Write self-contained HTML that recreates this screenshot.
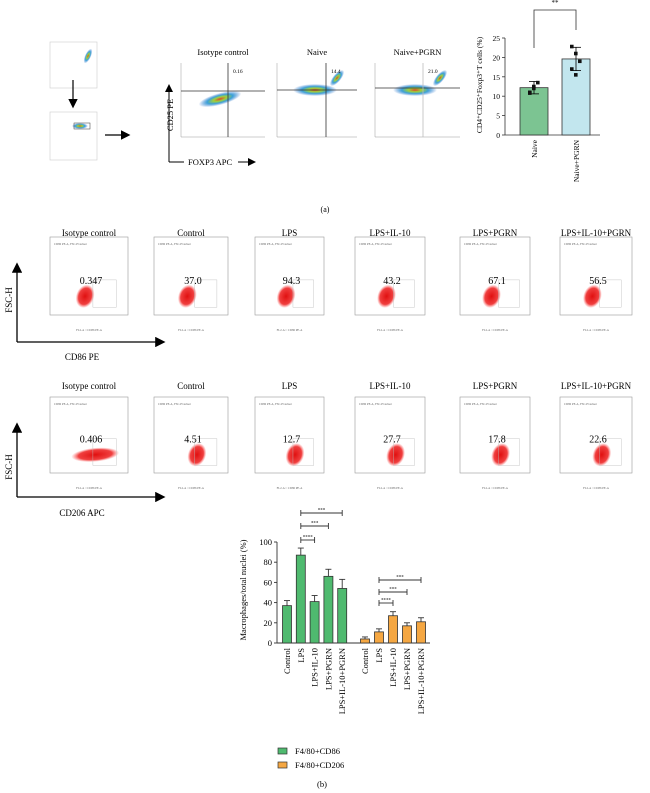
<!DOCTYPE html>
<html><head><meta charset="utf-8"><style>
html,body{margin:0;padding:0;background:#fff}
svg{display:block;font-family:"Liberation Serif",serif}
</style></head><body>
<svg id="fig" width="650" height="793" viewBox="0 0 650 793" xmlns="http://www.w3.org/2000/svg">
<defs>
<radialGradient id="red" cx="50%" cy="50%" r="50%"><stop offset="0" stop-color="#e01010"/><stop offset="0.7" stop-color="#ee2a2a" stop-opacity="0.9"/><stop offset="1" stop-color="#f55" stop-opacity="0"/></radialGradient>
<radialGradient id="heat" cx="50%" cy="50%" r="50%"><stop offset="0" stop-color="#e0402a"/><stop offset="0.3" stop-color="#9fd23a"/><stop offset="0.6" stop-color="#3ca0d8"/><stop offset="1" stop-color="#3a7ad0" stop-opacity="0"/></radialGradient>
<marker id="ah" markerWidth="8" markerHeight="8" refX="6" refY="4" orient="auto"><path d="M0,0 L8,4 L0,8 z" fill="#000"/></marker>
</defs>
<g id="static"></g>
<g id="topbar"></g>
<g id="botbar"></g>
</svg>
<script>
// ---------- Top bar chart data ----------
const topCats = ["Naive","Naive+PGRN"];
const topVals = [12.2, 19.6];
const topErr = [1.6, 3.0];
const topPts = [[11.0,12.5,13.5,10.8,12.0],[22.8,21.0,19.0,17.0,15.5]];
const topTicks = [0,5,10,15,20,25];
// ---------- Bottom bar chart data ----------
const cats = ["Control","LPS","LPS+IL-10","LPS+PGRN","LPS+IL-10+PGRN"];
const cd86 = [37, 87, 41, 66, 54];
const cd86Err = [5, 7, 6, 7, 9];
const cd206 = [4, 11, 27, 17, 21];
const cd206Err = [2, 3, 4, 3, 4];
const botTicks = [0,20,40,60,80,100];
// ---------- Flow panels ----------
const row1Titles = ["Isotype control","Control","LPS","LPS+IL-10","LPS+PGRN","LPS+IL-10+PGRN"];
const row1Nums = ["0.347","37.0","94.3","43.2","67.1","56.5"];
const row2Nums = ["0.406","4.51","12.7","27.7","17.8","22.6"];

const NS="http://www.w3.org/2000/svg";
function mk(parent, tag, attrs, text){const e=document.createElementNS(NS,tag);for(const k in attrs)e.setAttribute(k,attrs[k]);if(text!==undefined)e.textContent=text;parent.appendChild(e);return e;}
const S=document.getElementById('static');

// gating plots
[[50,42,97,88],[50,112,97,160]].forEach((b,i)=>{
  const r=mk(S,'rect',{x:b[0],y:b[1],width:b[2]-b[0],height:b[3]-b[1],fill:'none',stroke:'#ccc','stroke-width':0.6});
  
  
});
mk(S,'ellipse',{cx:88,cy:56,rx:3,ry:8,fill:'url(#heat)',transform:'rotate(25 88 56)'});
mk(S,'ellipse',{cx:80,cy:126,rx:8,ry:3,fill:'url(#heat)'});
mk(S,'rect',{x:74,y:123,width:16,height:6,fill:'none',stroke:'#333','stroke-width':0.5});
mk(S,'line',{x1:73,y1:80,x2:73,y2:106,stroke:'#000','stroke-width':1.2,'marker-end':'url(#ah)'});
mk(S,'line',{x1:105,y1:135,x2:128,y2:135,stroke:'#000','stroke-width':1.2,'marker-end':'url(#ah)'});

// top flow plots
const tp=[{t:'Isotype control',x:181,w:84,n:'0.16',vx:228,hy:91,bx:220,by:99},{t:'Naive',x:277,w:80,n:'14.4',vx:326,hy:90,bx:315,by:90},{t:'Naive+PGRN',x:375,w:85,n:'21.0',vx:423,hy:88,bx:415,by:90}];
tp.forEach((p,i)=>{
  const t=mk(S,'text',{x:p.x+p.w/2,y:55,'font-size':8.5,'text-anchor':'middle'},p.t);
  
  
  mk(S,'line',{x1:p.x,y1:63,x2:p.x,y2:137,stroke:'#999','stroke-width':0.5});
  mk(S,'line',{x1:p.x,y1:137,x2:p.x+p.w,y2:137,stroke:'#999','stroke-width':0.5});
  mk(S,'ellipse',{cx:p.bx,cy:p.by,rx:22,ry:6,fill:'url(#heat)',transform:'rotate('+(i==0?-15:0)+' '+p.bx+' '+p.by+')'});
  if(i>0)mk(S,'ellipse',{cx:p.x+p.w-20,cy:78,rx:4,ry:10,fill:'url(#heat)',transform:'rotate(40 '+(p.x+p.w-20)+' 78)'});
  mk(S,'line',{x1:p.x,y1:p.hy,x2:p.x+p.w,y2:p.hy,stroke:'#333','stroke-width':0.8});
  mk(S,'line',{x1:p.vx,y1:63,x2:p.vx,y2:137,stroke:i==2?'#bbb':'#333','stroke-width':0.8});
  mk(S,'text',{x:p.vx+5,y:73,'font-size':5.5},p.n);
});
const cd25=mk(S,'text',{x:0,y:0,'font-size':8.5,'text-anchor':'middle',transform:'translate(173,115) rotate(-90)'},'CD25 PE');

mk(S,'line',{x1:169,y1:162,x2:169,y2:86,stroke:'#000','stroke-width':1,'marker-end':'url(#ah)'});
mk(S,'line',{x1:169,y1:162,x2:184,y2:162,stroke:'#000','stroke-width':1});
const fx=mk(S,'text',{x:188,y:165,'font-size':8.5},'FOXP3 APC');

mk(S,'line',{x1:238,y1:162,x2:254,y2:162,stroke:'#000','stroke-width':1,'marker-end':'url(#ah)'});
mk(S,'text',{x:325,y:212,'font-size':8,'text-anchor':'middle'},'(a)');

// CD86 / CD206 flow rows
const cols=[{x:50,w:78},{x:154,w:74},{x:255,w:69},{x:355,w:70},{x:460,w:70},{x:560,w:72}];
function row(y0,h,titleY,nums,rowIdx){
  cols.forEach((c,i)=>{
    const t=mk(S,'text',{x:c.x+c.w/2,y:titleY,'font-size':9,'text-anchor':'middle'},row1Titles[i]);
    
    
    mk(S,'rect',{x:c.x,y:y0,width:c.w,height:h,fill:'none',stroke:'#999','stroke-width':0.6});
    const cx=c.x+c.w*(rowIdx==2?0.58:0.45), cy=y0+h*0.76;
    mk(S,'ellipse',{cx:cx,cy:cy,rx:rowIdx==2&&i==0?24:9,ry:rowIdx==2&&i==0?7:12,fill:'url(#red)',transform:'rotate('+(rowIdx==2&&i==0?-5:20)+' '+cx+' '+cy+')'});
    mk(S,'rect',{x:c.x+c.w*0.55,y:y0+h*0.55,width:c.w*0.3,height:h*0.35,fill:'none',stroke:'#bbb','stroke-width':0.4});
    const n=mk(S,'text',{x:c.x+c.w/2+2,y:y0+h*0.6,'font-size':10,'text-anchor':'middle'},nums[i]);
    
    
    mk(S,'text',{x:c.x+4,y:y0+8,'font-size':3,fill:'#666'},'CD86 PE-A, FSC-H subset');
    mk(S,'text',{x:c.x+c.w/2,y:y0+h+16,'font-size':3,fill:'#666','text-anchor':'middle'},'FL2-A :: CD86 PE-A');
  });
}
row(237,78,236,row1Nums,1);
row(397,76,389,row2Nums,2);
mk(S,'line',{x1:17,y1:342,x2:17,y2:265,stroke:'#000','stroke-width':1.3,'marker-end':'url(#ah)'});
mk(S,'line',{x1:17,y1:342,x2:163,y2:342,stroke:'#000','stroke-width':1.3,'marker-end':'url(#ah)'});
mk(S,'text',{x:0,y:0,'font-size':9,'text-anchor':'middle',transform:'translate(12,300) rotate(-90)'},'FSC-H');
mk(S,'text',{x:82,y:360,'font-size':9,'text-anchor':'middle'},'CD86 PE');
mk(S,'line',{x1:17,y1:497,x2:17,y2:425,stroke:'#000','stroke-width':1.3,'marker-end':'url(#ah)'});
mk(S,'line',{x1:17,y1:497,x2:163,y2:497,stroke:'#000','stroke-width':1.3,'marker-end':'url(#ah)'});
mk(S,'text',{x:0,y:0,'font-size':9,'text-anchor':'middle',transform:'translate(12,467) rotate(-90)'},'FSC-H');
mk(S,'text',{x:82,y:516,'font-size':9,'text-anchor':'middle'},'CD206 APC');

// ---------- Top bar chart ----------
const T=document.getElementById('topbar');
const tY=v=>135-(v/25)*97;
const tX=[534,576];
mk(T,'line',{x1:505,y1:tY(25),x2:505,y2:135,stroke:'#333','stroke-width':0.8});
mk(T,'line',{x1:505,y1:135,x2:600,y2:135,stroke:'#333','stroke-width':0.8});
topTicks.forEach(v=>{mk(T,'line',{x1:502,y1:tY(v),x2:505,y2:tY(v),stroke:'#333','stroke-width':0.8});mk(T,'text',{x:500,y:tY(v)+3,'font-size':7.5,'text-anchor':'end'},v);});
const fills=['#7cc492','#c2e6ee'];
topCats.forEach((c,i)=>{
  const b=mk(T,'rect',{x:tX[i]-14,y:tY(topVals[i]),width:28,height:135-tY(topVals[i]),fill:fills[i],stroke:'#333','stroke-width':0.8});
  
  
  mk(T,'line',{x1:tX[i],y1:tY(topVals[i]-topErr[i]),x2:tX[i],y2:tY(topVals[i]+topErr[i]),stroke:'#000','stroke-width':0.8});
  [topVals[i]-topErr[i],topVals[i]+topErr[i]].forEach(v=>mk(T,'line',{x1:tX[i]-5,y1:tY(v),x2:tX[i]+5,y2:tY(v),stroke:'#000','stroke-width':0.8}));
  topPts[i].forEach((v,j)=>{mk(T,'rect',{x:tX[i]-6+(j%3)*4,y:tY(v)-1.8,width:3.6,height:3.6,fill:'#111'});});
  const l=mk(T,'text',{x:0,y:0,'font-size':7.5,'text-anchor':'end',transform:'translate('+(tX[i]+3)+',140) rotate(-90)'},c);
  
});
mk(T,'polyline',{points:'534,48 534,10 576,10 576,30',fill:'none',stroke:'#333','stroke-width':0.8});
mk(T,'text',{x:555,y:5,'font-size':7,'text-anchor':'middle'},'**');
const tyl=mk(T,'text',{x:0,y:0,'font-size':7.5,'text-anchor':'middle',transform:'translate(482,85) rotate(-90)'},'CD4⁺CD25⁺Foxp3⁺T cells (%)');


// ---------- Bottom bar chart ----------
const B=document.getElementById('botbar');
const bY=v=>643-(v/100)*101;
const x0=277, x1=430;
const gX=i=>287+i*13.8, oX=i=>365+i*14;
mk(B,'line',{x1:x0,y1:bY(100),x2:x0,y2:643,stroke:'#333','stroke-width':0.9});
mk(B,'line',{x1:x0,y1:643,x2:x1,y2:643,stroke:'#333','stroke-width':0.9});
botTicks.forEach(v=>{mk(B,'line',{x1:x0-3,y1:bY(v),x2:x0,y2:bY(v),stroke:'#333','stroke-width':0.9});mk(B,'text',{x:x0-5,y:bY(v)+3,'font-size':8.5,'text-anchor':'end'},v);});
function series(vals,errs,xf,fill,name){
  vals.forEach((v,i)=>{
    const x=xf(i);
    const b=mk(B,'rect',{x:x-4.5,y:bY(v),width:9,height:643-bY(v),fill:fill,stroke:'#333','stroke-width':0.8});
    
    
    mk(B,'line',{x1:x,y1:bY(v),x2:x,y2:bY(v+errs[i]),stroke:'#333','stroke-width':0.9});
    mk(B,'line',{x1:x-3,y1:bY(v+errs[i]),x2:x+3,y2:bY(v+errs[i]),stroke:'#333','stroke-width':0.9});
    mk(B,'text',{x:0,y:0,'font-size':8.5,'text-anchor':'end',transform:'translate('+(x+3)+',648) rotate(-90)'},cats[i]);
  });
}
series(cd86,cd86Err,gX,'#4fba6f','cd86');
series(cd206,cd206Err,oX,'#f5a742','cd206');
function bracket(xa,xb,y,lab){
  mk(B,'line',{x1:xa,y1:y,x2:xb,y2:y,stroke:'#333','stroke-width':0.9});
  mk(B,'line',{x1:xa,y1:y-3,x2:xa,y2:y+3,stroke:'#333','stroke-width':0.9});
  mk(B,'line',{x1:xb,y1:y-3,x2:xb,y2:y+3,stroke:'#333','stroke-width':0.9});
  mk(B,'text',{x:(xa+xb)/2,y:y-1.5,'font-size':5,'text-anchor':'middle'},lab);
}
bracket(gX(1),gX(2),540,'****');bracket(gX(1),gX(3),526,'***');bracket(gX(1),gX(4),513,'***');
bracket(oX(1),oX(2),603,'****');bracket(oX(1),oX(3),592,'***');bracket(oX(1),oX(4),580,'***');
const byl=mk(B,'text',{x:0,y:0,'font-size':8.5,'text-anchor':'middle',transform:'translate(246,590) rotate(-90)'},'Macrophages/total nuclei (%)');

const lg1=mk(B,'rect',{x:278,y:748,width:9,height:6,fill:'#4fba6f',stroke:'#333','stroke-width':0.7});

mk(B,'text',{x:295,y:754,'font-size':8.5},'F4/80+CD86');
const lg2=mk(B,'rect',{x:278,y:762,width:9,height:6,fill:'#f5a742',stroke:'#333','stroke-width':0.7});

mk(B,'text',{x:295,y:768,'font-size':8.5},'F4/80+CD206');
mk(B,'text',{x:322,y:787,'font-size':8.5,'text-anchor':'middle'},'(b)');
</script>
</body></html>
